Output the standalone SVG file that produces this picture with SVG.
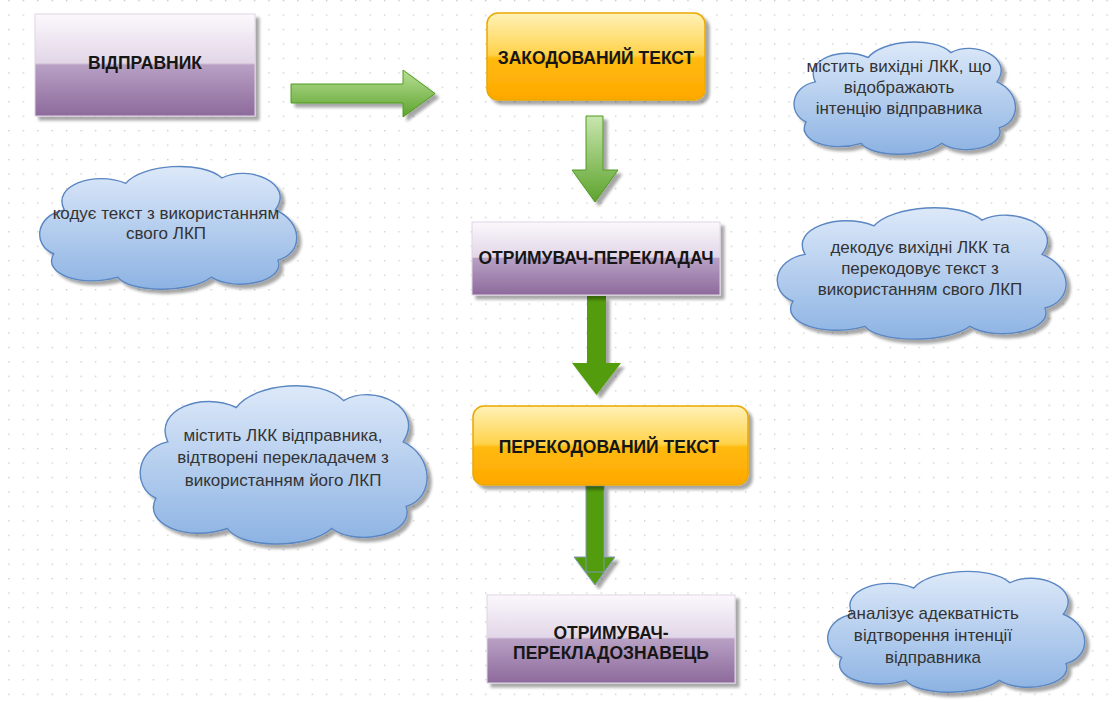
<svg xmlns="http://www.w3.org/2000/svg" width="1114" height="702" viewBox="0 0 1114 702">
<defs>
<pattern id="grid" x="8.2" y="0" width="14.45" height="14.45" patternUnits="userSpaceOnUse">
<circle cx="0.7" cy="0.7" r="0.75" fill="#c4c4c4"/>
</pattern>
<filter id="sh" x="-10%" y="-10%" width="130%" height="130%">
<feGaussianBlur in="SourceAlpha" stdDeviation="1.5"/>
<feOffset dx="4" dy="4" result="o"/>
<feComponentTransfer><feFuncA type="linear" slope="0.35"/></feComponentTransfer>
<feMerge><feMergeNode/><feMergeNode in="SourceGraphic"/></feMerge>
</filter>
<linearGradient id="purp" x1="0" y1="0" x2="0" y2="1">
<stop offset="0" stop-color="#fbf8fc"/>
<stop offset="0.48" stop-color="#e2d6e7"/>
<stop offset="0.5" stop-color="#b8a0c4"/>
<stop offset="1" stop-color="#8d6a9c"/>
</linearGradient>
<linearGradient id="orng" x1="0" y1="0" x2="0" y2="1">
<stop offset="0" stop-color="#fff2b8"/>
<stop offset="0.48" stop-color="#ffd24a"/>
<stop offset="0.52" stop-color="#ffbb10"/>
<stop offset="1" stop-color="#ffa800"/>
</linearGradient>
<linearGradient id="cloud" x1="0" y1="0" x2="0" y2="1">
<stop offset="0" stop-color="#dde9f9"/>
<stop offset="1" stop-color="#8db3e3"/>
</linearGradient>
<linearGradient id="grH" x1="0" y1="0" x2="0" y2="1">
<stop offset="0" stop-color="#b8df94"/>
<stop offset="1" stop-color="#5ea32e"/>
</linearGradient>
<linearGradient id="grV" x1="0" y1="0" x2="0" y2="1">
<stop offset="0" stop-color="#c8e6ae"/>
<stop offset="1" stop-color="#5ea32e"/>
</linearGradient>
<symbol id="cl" viewBox="0 0 200 120" preserveAspectRatio="none">
<path d="M22 45 C12 22 45 8 68 20 C80 2 125 -2 140 15 C160 2 195 20 180 45 C200 55 202 85 182 92 C188 112 150 122 132 108 C115 124 70 122 62 108 C35 118 5 105 14 86 C-2 78 0 50 22 45 Z" fill="url(#cloud)" stroke="#5a86c2" stroke-width="1.4" vector-effect="non-scaling-stroke"/>
</symbol>
<style>
.box{font-family:"Liberation Sans",Arial,sans-serif;font-weight:bold;font-size:17.5px;fill:#161616;text-anchor:middle}
.ct{font-family:"Liberation Sans",Arial,sans-serif;font-size:17px;fill:#333;text-anchor:middle}
.arrG{stroke:#4e9a1e;stroke-width:1}
</style>
</defs>
<rect width="1114" height="702" fill="#ffffff"/>
<rect width="1114" height="702" fill="url(#grid)"/>

<g id="connectors">
<polygon class="arrG" fill="url(#grH)" filter="url(#sh)" points="291,84 403,84 403,70 435,93.5 403,117 403,103 291,103"/>
<polygon class="arrG" fill="url(#grV)" filter="url(#sh)" points="586,116 603,116 603,170 618,170 595,202 572,170 586,170"/>
<polygon fill="#529c0a" filter="url(#sh)" points="587,296 606,296 606,363 621,363 596.5,395 572,363 587,363"/>
<g filter="url(#sh)">
<polygon fill="#529c0a" stroke="#7f97b8" stroke-width="1" points="574,557 615,557 595,585"/>
<rect x="586" y="486" width="18" height="86" fill="#529c0a" stroke="#7f97b8" stroke-width="1"/>
</g>
</g>

<g id="sender">
<rect x="35" y="14" width="220" height="102" fill="url(#purp)" stroke="#e0d4e6" filter="url(#sh)"/>
<text class="box" x="145" y="69">ВІДПРАВНИК</text>
</g>
<g id="encoded">
<rect x="487" y="13" width="218" height="87" rx="11" fill="url(#orng)" stroke="#eaa800" stroke-width="1.5" filter="url(#sh)"/>
<text class="box" x="596" y="64">ЗАКОДОВАНИЙ ТЕКСТ</text>
</g>
<g id="receiver-translator">
<rect x="472" y="222" width="248" height="73" fill="url(#purp)" stroke="#e0d4e6" filter="url(#sh)"/>
<text class="box" x="596" y="264">ОТРИМУВАЧ-ПЕРЕКЛАДАЧ</text>
</g>
<g id="recoded">
<rect x="473" y="406" width="275" height="79" rx="11" fill="url(#orng)" stroke="#eaa800" stroke-width="1.5" filter="url(#sh)"/>
<text class="box" x="609" y="453">ПЕРЕКОДОВАНИЙ ТЕКСТ</text>
</g>
<g id="receiver-scholar">
<rect x="487" y="595" width="248" height="88" fill="url(#purp)" stroke="#e0d4e6" filter="url(#sh)"/>
<text class="box" x="611" y="639">ОТРИМУВАЧ-</text>
<text class="box" x="611" y="659">ПЕРЕКЛАДОЗНАВЕЦЬ</text>
</g>

<g id="cloud1">
<use href="#cl" x="790" y="38" width="230" height="117" filter="url(#sh)"/>
<text class="ct" x="899" y="72">містить вихідні ЛКК, що</text>
<text class="ct" x="899" y="93">відображають</text>
<text class="ct" x="899" y="114">інтенцію відправника</text>
</g>
<g id="cloud2">
<use href="#cl" x="35" y="162" width="267" height="128" filter="url(#sh)"/>
<text class="ct" x="166" y="219">кодує текст з використанням</text>
<text class="ct" x="166" y="239">свого ЛКП</text>
</g>
<g id="cloud3">
<use href="#cl" x="772" y="203" width="300" height="137" filter="url(#sh)"/>
<text class="ct" x="920" y="253">декодує вихідні ЛКК та</text>
<text class="ct" x="920" y="274">перекодовує текст з</text>
<text class="ct" x="920" y="295">використанням свого ЛКП</text>
</g>
<g id="cloud4">
<use href="#cl" x="135" y="380" width="298" height="165" filter="url(#sh)"/>
<text class="ct" x="283" y="441">містить ЛКК відправника,</text>
<text class="ct" x="283" y="463">відтворені перекладачем з</text>
<text class="ct" x="283" y="486">використанням  його ЛКП</text>
</g>
<g id="cloud5">
<use href="#cl" x="823" y="567" width="267" height="126" filter="url(#sh)"/>
<text class="ct" x="933" y="619">аналізує адекватність</text>
<text class="ct" x="933" y="641">відтворення інтенції</text>
<text class="ct" x="933" y="663">відправника</text>
</g>
</svg>
